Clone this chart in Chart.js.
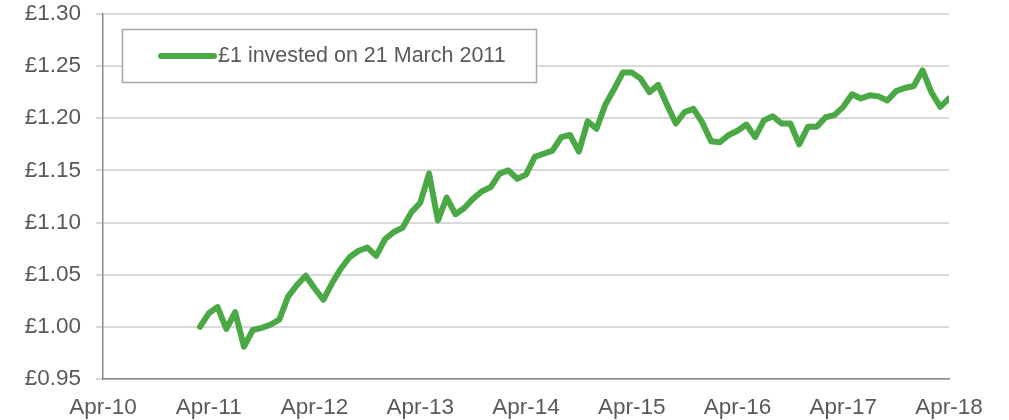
<!DOCTYPE html>
<html>
<head>
<meta charset="utf-8">
<script src="https://cdn.jsdelivr.net/npm/chart.js@4/dist/chart.umd.min.js"></script>
<style>
  html, body { margin: 0; padding: 0; background: #ffffff; }
  #wrap { width: 1009px; height: 420px; position: relative; }
</style>
</head>
<body>
<div id="wrap"><canvas id="growthChart"></canvas></div>
<script>
/* --------------- Data  --------------------- */
// month index counted from Apr-10 (0) ; first value is March 2011
const firstMonth = 11;
const seriesLabel = "£1 invested on 21 March 2011";
const values = [
  1.000, 1.013, 1.019, 0.998, 1.014, 0.981, 0.997, 0.999, 1.002, 1.007,
  1.029, 1.040, 1.049, 1.037, 1.026, 1.042, 1.056, 1.067, 1.073, 1.076,
  1.068, 1.084, 1.091, 1.095, 1.110, 1.119, 1.147, 1.102, 1.124, 1.108,
  1.114, 1.123, 1.130, 1.134, 1.147, 1.150, 1.142, 1.146, 1.163, 1.166,
  1.169, 1.182, 1.184, 1.168, 1.197, 1.190, 1.213, 1.228, 1.244, 1.244,
  1.238, 1.225, 1.232, 1.213, 1.195, 1.206, 1.209, 1.196, 1.178, 1.177,
  1.184, 1.188, 1.194, 1.182, 1.198, 1.202, 1.195, 1.195, 1.175, 1.192,
  1.192, 1.201, 1.203, 1.211, 1.223, 1.219, 1.222, 1.221, 1.217, 1.226,
  1.229, 1.231, 1.246, 1.225, 1.211, 1.219,
];
const xTickLabels = ["Apr-10", "Apr-11", "Apr-12", "Apr-13", "Apr-14", "Apr-15", "Apr-16", "Apr-17", "Apr-18"];
const yMin = 0.95;
const yMax = 1.30;

/* --------------- Styles  --------------------- */
const lineColor = "#4aa845";
const textColor = "#595959";
const gridColor = "#d9d9d9";
const axisColor = "#8c8c8c";
const fontFamily = "'Liberation Sans', Arial, Helvetica, sans-serif";

const points = values.map((v, i) => ({ x: firstMonth + i, y: v }));

/* --------------- Boxed Legend Inside The Plot --------------------- */
const boxLegend = {
  id: "boxLegend",
  afterDraw(chart) {
    const ctx = chart.ctx;
    const ds = chart.data.datasets[0];
    ctx.save();
    ctx.fillStyle = "#ffffff";
    ctx.fillRect(122.5, 29.5, 414, 53);
    ctx.strokeStyle = "#a6a6a6";
    ctx.lineWidth = 1.5;
    ctx.strokeRect(122.5, 29.5, 414, 53);
    ctx.strokeStyle = ds.borderColor;
    ctx.lineWidth = 6;
    ctx.lineCap = "round";
    ctx.beginPath();
    ctx.moveTo(161, 56);
    ctx.lineTo(214, 56);
    ctx.stroke();
    ctx.fillStyle = textColor;
    ctx.font = "21.5px " + fontFamily;
    ctx.textBaseline = "middle";
    ctx.fillText(ds.label, 218, 56);
    ctx.restore();
  },
};

/* --------------- Chart --------------------- */
new Chart(document.getElementById("growthChart"), {
  type: "line",
  plugins: [boxLegend],
  data: {
    datasets: [
      {
        label: seriesLabel,
        data: points,
        borderColor: lineColor,
        borderWidth: 6,
        borderJoinStyle: "round",
        borderCapStyle: "round",
        pointRadius: 0,
        tension: 0,
        fill: false,
      },
    ],
  },
  options: {
    responsive: true,
    maintainAspectRatio: false,
    animation: false,
    layout: { autoPadding: false, padding: { top: 14, right: 60, left: 0, bottom: 0 } },
    plugins: {
      legend: { display: false },
      tooltip: { enabled: false },
    },
    scales: {
      x: {
        type: "linear",
        min: 0,
        max: (xTickLabels.length - 1) * 12,
        afterFit: (scale) => { scale.height = 41; },
        afterBuildTicks: (scale) => {
          scale.ticks = xTickLabels.map((_, i) => ({ value: i * 12 }));
        },
        grid: { display: false, drawTicks: false },
        border: { display: true, color: axisColor, width: 1.5 },
        ticks: {
          color: textColor,
          font: { family: fontFamily, size: 22.5 },
          padding: 15,
          maxRotation: 0,
          autoSkip: false,
          callback: (v) => xTickLabels[Math.round(v / 12)],
        },
      },
      y: {
        min: yMin,
        max: yMax,
        afterFit: (scale) => {
          scale.width = 103;
          scale.paddingTop = 0;
          scale.paddingBottom = 0;
        },
        grid: { color: gridColor, lineWidth: 2, tickLength: 7, tickColor: gridColor },
        border: { display: true, color: axisColor, width: 1.5 },
        ticks: {
          stepSize: 0.05,
          color: textColor,
          font: { family: fontFamily, size: 22.5 },
          padding: 15,
          callback: (v) => "£" + Number(v).toFixed(2),
        },
      },
    },
  },
});
</script>
</body>
</html>
